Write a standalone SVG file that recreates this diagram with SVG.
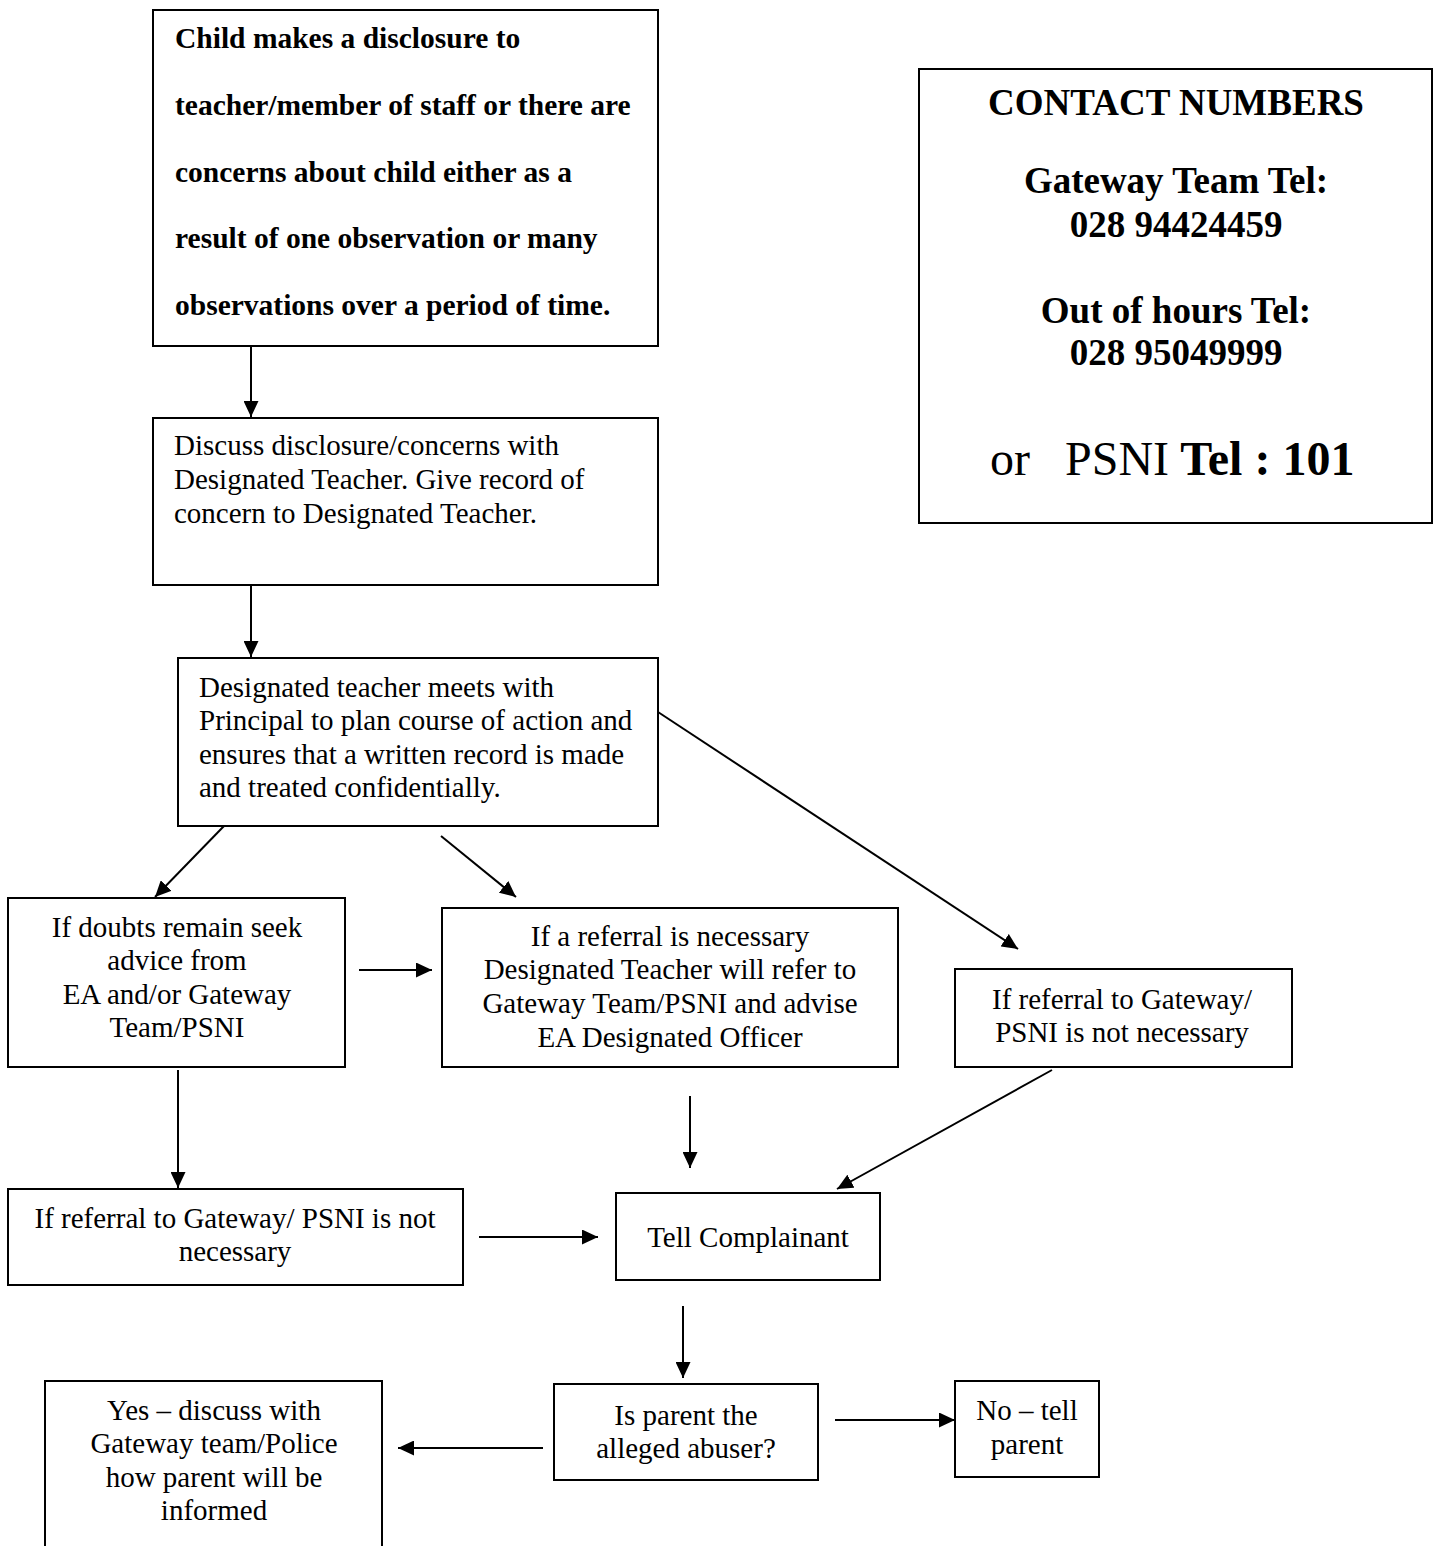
<svg xmlns="http://www.w3.org/2000/svg" width="1439" height="1546" viewBox="0 0 1439 1546">
<style>
.box{fill:#fff;stroke:#000;stroke-width:2}
.t{font-family:"Liberation Serif","Times New Roman",serif;font-size:29px;fill:#000}
.b{font-weight:bold}
.c{text-anchor:middle}
.ct{font-family:"Liberation Serif","Times New Roman",serif;font-size:37px;font-weight:bold;text-anchor:middle;fill:#000}
.con{stroke:#000;stroke-width:2;fill:none;marker-end:url(#ah)}
</style>
<defs>
<marker id="ah" viewBox="0 0 16 15" refX="16" refY="7.5" markerWidth="16" markerHeight="15" markerUnits="userSpaceOnUse" orient="auto">
<path d="M0,0 L16,7.5 L0,15 z" fill="#000"/>
</marker>
</defs>
<rect width="1439" height="1546" fill="#fff"/>

<g id="n1">
<rect class="box" x="153" y="10" width="505" height="336"/>
<text class="t b" style="font-size:29.5px" x="175" y="48">Child makes a disclosure to</text>
<text class="t b" style="font-size:29.5px" x="175" y="115">teacher/member of staff or there are</text>
<text class="t b" style="font-size:29.5px" x="175" y="182">concerns about child either as a</text>
<text class="t b" style="font-size:29.5px" x="175" y="248">result of one observation or many</text>
<text class="t b" style="font-size:29.5px" x="175" y="315">observations over a period of time.</text>
</g>

<g id="contact">
<rect class="box" x="919" y="69" width="513" height="454"/>
<text class="ct" x="1176" y="115">CONTACT NUMBERS</text>
<text class="ct" x="1176" y="193">Gateway Team Tel:</text>
<text class="ct" x="1176" y="237">028 94424459</text>
<text class="ct" x="1176" y="323">Out of hours Tel:</text>
<text class="ct" x="1176" y="365">028 95049999</text>
<text class="t" style="font-size:48px" x="990" y="475">or</text>
<text class="t" style="font-size:48px" x="1065" y="475">PSNI<tspan class="b"> Tel : 101</tspan></text>
</g>

<g id="n2">
<rect class="box" x="153" y="418" width="505" height="167"/>
<text class="t" x="174" y="455">Discuss disclosure/concerns with</text>
<text class="t" x="174" y="489">Designated Teacher. Give record of</text>
<text class="t" x="174" y="523">concern to Designated Teacher.</text>
</g>

<g id="n3">
<rect class="box" x="178" y="658" width="480" height="168"/>
<text class="t" x="199" y="697">Designated teacher meets with</text>
<text class="t" x="199" y="730">Principal to plan course of action and</text>
<text class="t" x="199" y="764">ensures that a written record is made</text>
<text class="t" x="199" y="797">and treated confidentially.</text>
</g>

<g id="n4">
<rect class="box" x="8" y="898" width="337" height="169"/>
<text class="t c" x="177" y="937">If doubts remain seek</text>
<text class="t c" x="177" y="970">advice from</text>
<text class="t c" x="177" y="1004">EA and/or Gateway</text>
<text class="t c" x="177" y="1037">Team/PSNI</text>
</g>

<g id="n5">
<rect class="box" x="442" y="908" width="456" height="159"/>
<text class="t c" x="670" y="946">If a referral is necessary</text>
<text class="t c" x="670" y="979">Designated Teacher will refer to</text>
<text class="t c" x="670" y="1013">Gateway Team/PSNI and advise</text>
<text class="t c" x="670" y="1047">EA Designated Officer</text>
</g>

<g id="n6">
<rect class="box" x="955" y="969" width="337" height="98"/>
<text class="t c" x="1122" y="1009">If referral to Gateway/</text>
<text class="t c" x="1122" y="1042">PSNI is not necessary</text>
</g>

<g id="n7">
<rect class="box" x="8" y="1189" width="455" height="96"/>
<text class="t c" x="235" y="1228">If referral to Gateway/ PSNI is not</text>
<text class="t c" x="235" y="1261">necessary</text>
</g>

<g id="n8">
<rect class="box" x="616" y="1193" width="264" height="87"/>
<text class="t c" x="748" y="1247">Tell Complainant</text>
</g>

<g id="n9">
<rect class="box" x="554" y="1384" width="264" height="96"/>
<text class="t c" x="686" y="1425">Is parent the</text>
<text class="t c" x="686" y="1458">alleged abuser?</text>
</g>

<g id="n10">
<rect class="box" x="45" y="1381" width="337" height="175"/>
<text class="t c" x="214" y="1420">Yes – discuss with</text>
<text class="t c" x="214" y="1453">Gateway team/Police</text>
<text class="t c" x="214" y="1487">how parent will be</text>
<text class="t c" x="214" y="1520">informed</text>
</g>

<g id="n11">
<rect class="box" x="955" y="1381" width="144" height="96"/>
<text class="t c" x="1027" y="1420">No – tell</text>
<text class="t c" x="1027" y="1454">parent</text>
</g>

<g id="connectors">
<line class="con" x1="251" y1="346" x2="251" y2="417"/>
<line class="con" x1="251" y1="585" x2="251" y2="657"/>
<line class="con" x1="224" y1="826" x2="155" y2="897"/>
<line class="con" x1="441" y1="836" x2="516" y2="897"/>
<line class="con" x1="658" y1="712" x2="1018" y2="949"/>
<line class="con" x1="359" y1="970" x2="432" y2="970"/>
<line class="con" x1="178" y1="1070" x2="178" y2="1188"/>
<line class="con" x1="690" y1="1096" x2="690" y2="1168"/>
<line class="con" x1="1052" y1="1070" x2="837" y2="1189"/>
<line class="con" x1="479" y1="1237" x2="598" y2="1237"/>
<line class="con" x1="683" y1="1306" x2="683" y2="1378"/>
<line class="con" x1="543" y1="1448" x2="398" y2="1448"/>
<line class="con" x1="835" y1="1420" x2="955" y2="1420"/>
</g>
</svg>
